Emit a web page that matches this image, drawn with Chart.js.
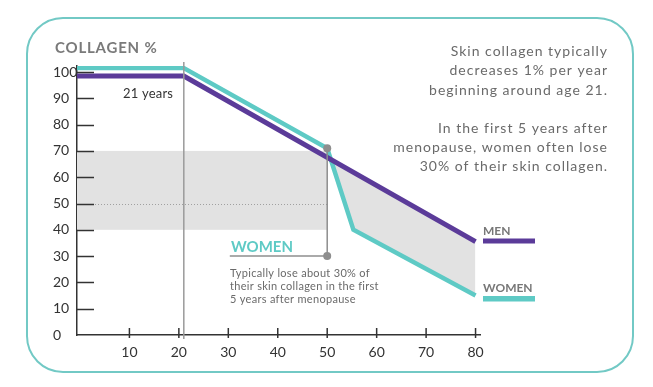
<!DOCTYPE html>
<html><head><meta charset="utf-8">
<script src="https://cdn.jsdelivr.net/npm/chart.js@4/dist/chart.umd.min.js"></script>
<style>html,body{margin:0;padding:0;background:#fff}canvas{display:block}</style>
</head><body>
<canvas id="c" width="653" height="387"></canvas>
<script>
// ---- data ----
const menAges = [0, 21, 80];
const menCollagen = [98.5, 98.5, 35.5];
const womenAges = [0, 21, 50, 55.3, 80];
const womenCollagen = [101.5, 101.5, 71, 40, 15];
const xTicks = [10, 20, 30, 40, 50, 60, 70, 80];
const yTicks = [0, 10, 20, 30, 40, 50, 60, 70, 80, 90, 100];
const bandRange = [40, 70];       // shaded band (collagen %)
const bandMid = 50;
const bandEndAge = 50;
const onsetAge = 21;
const menopauseAge = 50;
const menopauseFrom = 71, menopauseTo = 30, calloutEndAge = 30.3;
const titleText = 'COLLAGEN %';
const onsetLabel = '21 years';
const sideText = ['Skin collagen typically', 'decreases 1% per year', 'beginning around age 21.', '', 'In the first 5 years after', 'menopause, women often lose', '30% of their skin collagen.'];
const calloutTitle = 'WOMEN';
const calloutText = ['Typically lose about 30% of', 'their skin collagen in the first', '5 years after menopause'];
const legendLabels = ['MEN', 'WOMEN'];

const X_MIN = -0.6, X_MAX = 80.9, Y_MIN = 0, Y_MAX = 102.3;
const TEAL = '#5ecac5', PURPLE = '#5b3b99', BAND = '#e2e2e2', GREY = '#8e8e8e';
const FONT = 'Lato, "Open Sans", sans-serif';

const toPts = (xs, ys) => xs.map((x, i) => ({x: x === 0 ? X_MIN : x, y: ys[i]}));

const decor = {
  id: 'decor',
  beforeDraw(chart) {
    const c = chart.ctx;
    c.save();
    c.strokeStyle = '#72c9c5'; c.lineWidth = 2;
    c.beginPath(); c.roundRect(27, 18, 606, 354, 36); c.stroke();
    c.restore();
  },
  beforeDatasetsDraw(chart) {
    const c = chart.ctx, x = chart.scales.x, y = chart.scales.y;
    const l = x.getPixelForValue(X_MIN), r = x.getPixelForValue(bandEndAge);
    const t = y.getPixelForValue(bandRange[1]), b = y.getPixelForValue(bandRange[0]);
    c.save();
    c.fillStyle = BAND; c.fillRect(l, t, r - l, b - t);
    c.strokeStyle = '#a0a0a0'; c.lineWidth = 1; c.setLineDash([1, 2]);
    const ym = Math.round(y.getPixelForValue(bandMid)) + 0.5;
    c.beginPath(); c.moveTo(l, ym); c.lineTo(r, ym); c.stroke();
    c.restore();
  },
  afterDatasetsDraw(chart) {
    const c = chart.ctx, x = chart.scales.x, y = chart.scales.y, ca = chart.chartArea;
    c.save();
    // axis tick marks
    c.strokeStyle = '#333'; c.lineWidth = 1.5;
    yTicks.slice(1).forEach(v => {
      const py = Math.round(y.getPixelForValue(v)) + 0.5;
      c.beginPath(); c.moveTo(ca.left, py); c.lineTo(ca.left + 17, py); c.stroke();
    });
    xTicks.forEach(v => {
      const px = x.getPixelForValue(v);
      c.beginPath(); c.moveTo(px, ca.bottom - 7); c.lineTo(px, ca.bottom + 3); c.stroke();
    });
    // onset line
    const px21 = x.getPixelForValue(onsetAge);
    c.strokeStyle = '#9a9a9a'; c.lineWidth = 1.5;
    c.beginPath(); c.moveTo(px21, ca.top - 4); c.lineTo(px21, ca.bottom + 4); c.stroke();
    // menopause callout
    const pm = x.getPixelForValue(menopauseAge);
    const y1 = y.getPixelForValue(menopauseFrom), y2 = y.getPixelForValue(menopauseTo);
    const pe = x.getPixelForValue(calloutEndAge);
    c.strokeStyle = GREY; c.lineWidth = 1.5;
    c.beginPath(); c.moveTo(pm, y1); c.lineTo(pm, y2); c.lineTo(pe, y2); c.stroke();
    c.fillStyle = GREY;
    [[pm, y1], [pm, y2]].forEach(([a, b2]) => { c.beginPath(); c.arc(a, b2, 4, 0, Math.PI * 2); c.fill(); });
    // texts
    c.textBaseline = 'middle';
    c.fillStyle = '#7a7a7a'; c.font = 'bold 15px ' + FONT; c.textAlign = 'left';
    c.letterSpacing = '0.8px';
    c.fillText(titleText, 55, 48);
    c.letterSpacing = '0.2px';
    c.fillStyle = '#333'; c.font = '13px ' + FONT;
    c.fillText(onsetLabel, 123, 94);
    c.fillStyle = TEAL; c.font = 'bold 15px ' + FONT;
    c.letterSpacing = '0px';
    c.fillText(calloutTitle, 231, 247);
    c.fillStyle = '#6a6a6a'; c.font = '11px ' + FONT;
    c.letterSpacing = '0.3px';
    calloutText.forEach((s, i) => c.fillText(s, 230, 273 + i * 13));
    c.fillStyle = '#6a6a6a'; c.font = '14px ' + FONT; c.textAlign = 'right';
    c.letterSpacing = '1px';
    const sy = [51, 70.5, 90, 0, 128, 147, 166];
    sideText.forEach((s, i) => { if (s) c.fillText(s, 608, sy[i]); });
    // legend
    c.letterSpacing = '0px';
    c.textAlign = 'left'; c.fillStyle = '#777'; c.font = 'bold 12px ' + FONT;
    c.fillText(legendLabels[0], 483, 231);
    c.fillText(legendLabels[1], 483, 288);
    c.fillStyle = PURPLE; c.fillRect(483, 238.5, 52, 5);
    c.fillStyle = TEAL; c.fillRect(483, 296, 52, 5.5);
    c.restore();
  }
};

new Chart(document.getElementById('c'), {
  type: 'line',
  data: {
    datasets: [
      { label: 'Men', data: toPts(menAges, menCollagen), borderColor: PURPLE, borderWidth: 5,
        pointRadius: 0, fill: false, tension: 0, borderCapStyle: 'butt', borderJoinStyle: 'miter' },
      { label: 'Women', data: toPts(womenAges, womenCollagen), borderColor: TEAL, borderWidth: 4.5,
        pointRadius: 0, tension: 0, borderJoinStyle: 'miter',
        fill: { target: 0, above: 'rgba(0,0,0,0)', below: BAND } }
    ]
  },
  options: {
    responsive: false, animation: false, devicePixelRatio: 1,
    layout: { padding: { left: 53, right: 173, top: 66, bottom: 22 } },
    plugins: { legend: { display: false }, tooltip: { enabled: false }, filler: { propagate: false } },
    scales: {
      x: { type: 'linear', min: X_MIN, max: X_MAX,
        afterBuildTicks: s => { s.ticks = xTicks.map(v => ({value: v})); },
        afterFit: s => { s.height = 30; },
        grid: { display: false, drawTicks: false },
        border: { display: true, color: '#333', width: 1.5 },
        ticks: { color: '#333', font: { family: FONT, size: 14 }, padding: 9 } },
      y: { type: 'linear', min: Y_MIN, max: Y_MAX,
        afterBuildTicks: s => { s.ticks = yTicks.map(v => ({value: v})); },
        afterFit: s => { s.width = 24; },
        grid: { display: false, drawTicks: false },
        border: { display: true, color: '#333', width: 1.5 },
        ticks: { color: '#333', font: { family: FONT, size: 14 }, crossAlign: 'far', padding: 4 } }
    }
  },
  plugins: [decor]
});
</script>
</body></html>
